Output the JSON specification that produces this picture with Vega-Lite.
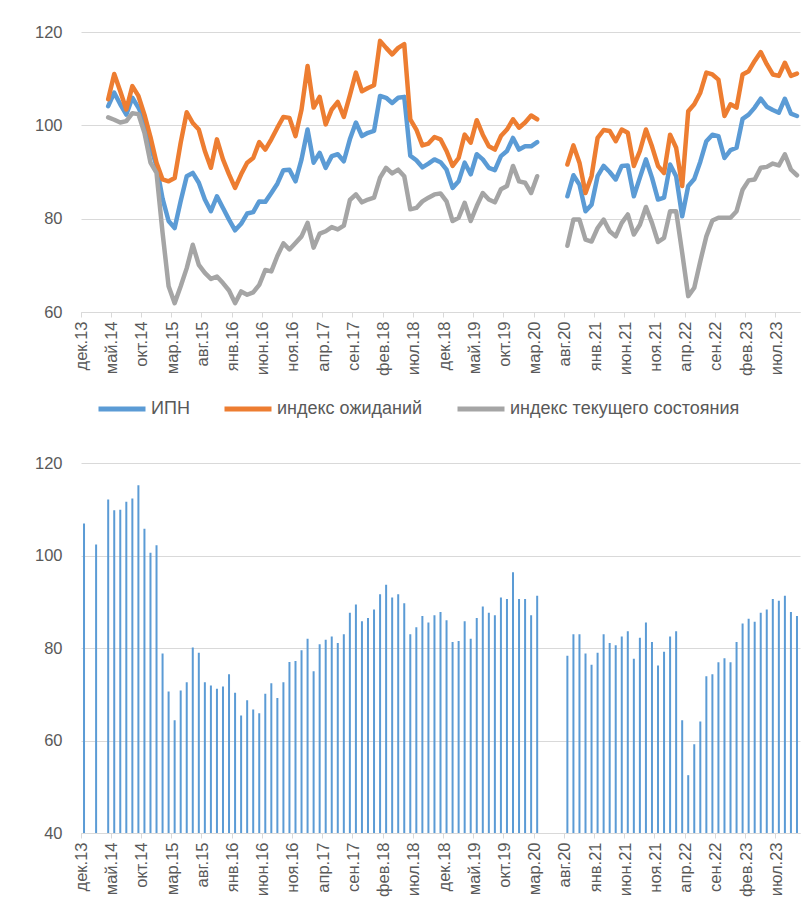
{
  "$schema": "https://vega.github.io/schema/vega-lite/v6.json",
  "background": "white",
  "padding": {"left": 34, "top": 24, "right": 10, "bottom": 5},
  "config": {
    "font": "Liberation Sans",
    "view": {"stroke": null},
    "axis": {"labelColor": "#595959", "labelFontSize": 16.5, "gridColor": "#d9d9d9", "domainColor": "#d9d9d9", "tickColor": "#d9d9d9", "title": null},
    "legend": {"labelColor": "#595959", "labelFontSize": 18, "title": null, "labelLimit": 0}
  },
  "resolve": {"scale": {"color": "independent"}},
  "spacing": 21,
  "datasets": {
    "lines": [
      {"m": "апр.14", "seg": 1, "ИПН": 104.1, "индекс ожиданий": 105.6, "индекс текущего состояния": 101.7},
      {"m": "май.14", "seg": 1, "ИПН": 107.0, "индекс ожиданий": 111.0, "индекс текущего состояния": 101.2},
      {"m": "июн.14", "seg": 1, "ИПН": 104.5, "индекс ожиданий": 107.3, "индекс текущего состояния": 100.6},
      {"m": "июл.14", "seg": 1, "ИПН": 102.3, "индекс ожиданий": 103.4, "индекс текущего состояния": 100.9},
      {"m": "авг.14", "seg": 1, "ИПН": 105.9, "индекс ожиданий": 108.4, "индекс текущего состояния": 102.6},
      {"m": "сен.14", "seg": 1, "ИПН": 103.8, "индекс ожиданий": 106.3, "индекс текущего состояния": 102.4},
      {"m": "окт.14", "seg": 1, "ИПН": 101.0, "индекс ожиданий": 102.3, "индекс текущего состояния": 98.4},
      {"m": "ноя.14", "seg": 1, "ИПН": 95.5, "индекс ожиданий": 97.5, "индекс текущего состояния": 92.0},
      {"m": "дек.14", "seg": 1, "ИПН": 91.3, "индекс ожиданий": 92.0, "индекс текущего состояния": 89.8},
      {"m": "янв.15", "seg": 1, "ИПН": 84.3, "индекс ожиданий": 88.4, "индекс текущего состояния": 77.0},
      {"m": "фев.15", "seg": 1, "ИПН": 79.5, "индекс ожиданий": 88.0, "индекс текущего состояния": 65.5},
      {"m": "мар.15", "seg": 1, "ИПН": 78.0, "индекс ожиданий": 88.7, "индекс текущего состояния": 61.9},
      {"m": "апр.15", "seg": 1, "ИПН": 83.8, "индекс ожиданий": 96.3, "индекс текущего состояния": 65.5},
      {"m": "май.15", "seg": 1, "ИПН": 89.1, "индекс ожиданий": 102.8, "индекс текущего состояния": 69.4},
      {"m": "июн.15", "seg": 1, "ИПН": 89.8, "индекс ожиданий": 100.5, "индекс текущего состояния": 74.4},
      {"m": "июл.15", "seg": 1, "ИПН": 87.7, "индекс ожиданий": 99.1, "индекс текущего состояния": 70.1},
      {"m": "авг.15", "seg": 1, "ИПН": 84.1, "индекс ожиданий": 94.5, "индекс текущего состояния": 68.4},
      {"m": "сен.15", "seg": 1, "ИПН": 81.6, "индекс ожиданий": 90.9, "индекс текущего состояния": 67.1},
      {"m": "окт.15", "seg": 1, "ИПН": 84.8, "индекс ожиданий": 97.0, "индекс текущего состояния": 67.6},
      {"m": "ноя.15", "seg": 1, "ИПН": 82.3, "индекс ожиданий": 92.7, "индекс текущего состояния": 66.2},
      {"m": "дек.15", "seg": 1, "ИПН": 79.8, "индекс ожиданий": 89.5, "индекс текущего состояния": 64.6},
      {"m": "янв.16", "seg": 1, "ИПН": 77.5, "индекс ожиданий": 86.6, "индекс текущего состояния": 61.9},
      {"m": "фев.16", "seg": 1, "ИПН": 78.9, "индекс ожиданий": 89.5, "индекс текущего состояния": 64.4},
      {"m": "мар.16", "seg": 1, "ИПН": 81.1, "индекс ожиданий": 92.0, "индекс текущего состояния": 63.7},
      {"m": "апр.16", "seg": 1, "ИПН": 81.4, "индекс ожиданий": 93.0, "индекс текущего состояния": 64.2},
      {"m": "май.16", "seg": 1, "ИПН": 83.7, "индекс ожиданий": 96.4, "индекс текущего состояния": 65.8},
      {"m": "июн.16", "seg": 1, "ИПН": 83.6, "индекс ожиданий": 94.8, "индекс текущего состояния": 69.0},
      {"m": "июл.16", "seg": 1, "ИПН": 85.5, "индекс ожиданий": 97.0, "индекс текущего состояния": 68.7},
      {"m": "авг.16", "seg": 1, "ИПН": 87.5, "индекс ожиданий": 99.5, "индекс текущего состояния": 72.0},
      {"m": "сен.16", "seg": 1, "ИПН": 90.4, "индекс ожиданий": 101.8, "индекс текущего состояния": 74.7},
      {"m": "окт.16", "seg": 1, "ИПН": 90.5, "индекс ожиданий": 101.6, "индекс текущего состояния": 73.4},
      {"m": "ноя.16", "seg": 1, "ИПН": 88.0, "индекс ожиданий": 97.7, "индекс текущего состояния": 74.8},
      {"m": "дек.16", "seg": 1, "ИПН": 92.7, "индекс ожиданий": 103.4, "индекс текущего состояния": 76.2},
      {"m": "янв.17", "seg": 1, "ИПН": 99.1, "индекс ожиданий": 112.7, "индекс текущего состояния": 79.1},
      {"m": "фев.17", "seg": 1, "ИПН": 92.0, "индекс ожиданий": 103.8, "индекс текущего состояния": 73.8},
      {"m": "мар.17", "seg": 1, "ИПН": 94.1, "индекс ожиданий": 106.1, "индекс текущего состояния": 76.8},
      {"m": "апр.17", "seg": 1, "ИПН": 90.9, "индекс ожиданий": 100.2, "индекс текущего состояния": 77.3},
      {"m": "май.17", "seg": 1, "ИПН": 93.4, "индекс ожиданий": 103.4, "индекс текущего состояния": 78.2},
      {"m": "июн.17", "seg": 1, "ИПН": 93.8, "индекс ожиданий": 105.0, "индекс текущего состояния": 77.7},
      {"m": "июл.17", "seg": 1, "ИПН": 92.3, "индекс ожиданий": 101.8, "индекс текущего состояния": 78.5},
      {"m": "авг.17", "seg": 1, "ИПН": 97.0, "индекс ожиданий": 106.4, "индекс текущего состояния": 84.0},
      {"m": "сен.17", "seg": 1, "ИПН": 100.6, "индекс ожиданий": 111.3, "индекс текущего состояния": 85.2},
      {"m": "окт.17", "seg": 1, "ИПН": 97.7, "индекс ожиданий": 107.3, "индекс текущего состояния": 83.5},
      {"m": "ноя.17", "seg": 1, "ИПН": 98.4, "индекс ожиданий": 108.0, "индекс текущего состояния": 84.1},
      {"m": "дек.17", "seg": 1, "ИПН": 98.8, "индекс ожиданий": 108.6, "индекс текущего состояния": 84.5},
      {"m": "янв.18", "seg": 1, "ИПН": 106.3, "индекс ожиданий": 118.1, "индекс текущего состояния": 88.8},
      {"m": "фев.18", "seg": 1, "ИПН": 105.9, "индекс ожиданий": 116.6, "индекс текущего состояния": 90.9},
      {"m": "мар.18", "seg": 1, "ИПН": 104.8, "индекс ожиданий": 115.2, "индекс текущего состояния": 89.7},
      {"m": "апр.18", "seg": 1, "ИПН": 105.9, "индекс ожиданий": 116.6, "индекс текущего состояния": 90.5},
      {"m": "май.18", "seg": 1, "ИПН": 106.1, "индекс ожиданий": 117.4, "индекс текущего состояния": 89.1},
      {"m": "июн.18", "seg": 1, "ИПН": 93.5, "индекс ожиданий": 101.3, "индекс текущего состояния": 82.0},
      {"m": "июл.18", "seg": 1, "ИПН": 92.5, "индекс ожиданий": 99.1, "индекс текущего состояния": 82.3},
      {"m": "авг.18", "seg": 1, "ИПН": 91.0, "индекс ожиданий": 95.7, "индекс текущего состояния": 83.7},
      {"m": "сен.18", "seg": 1, "ИПН": 91.8, "индекс ожиданий": 96.1, "индекс текущего состояния": 84.5},
      {"m": "окт.18", "seg": 1, "ИПН": 92.7, "индекс ожиданий": 97.5, "индекс текущего состояния": 85.2},
      {"m": "ноя.18", "seg": 1, "ИПН": 92.1, "индекс ожиданий": 97.0, "индекс текущего состояния": 85.4},
      {"m": "дек.18", "seg": 1, "ИПН": 90.5, "индекс ожиданий": 94.5, "индекс текущего состояния": 83.7},
      {"m": "янв.19", "seg": 1, "ИПН": 86.6, "индекс ожиданий": 91.3, "индекс текущего состояния": 79.5},
      {"m": "фев.19", "seg": 1, "ИПН": 88.0, "индекс ожиданий": 93.0, "индекс текущего состояния": 80.2},
      {"m": "мар.19", "seg": 1, "ИПН": 92.0, "индекс ожиданий": 98.0, "индекс текущего состояния": 83.4},
      {"m": "апр.19", "seg": 1, "ИПН": 89.5, "индекс ожиданий": 96.3, "индекс текущего состояния": 79.5},
      {"m": "май.19", "seg": 1, "ИПН": 93.8, "индекс ожиданий": 101.1, "индекс текущего состояния": 82.7},
      {"m": "июн.19", "seg": 1, "ИПН": 92.7, "индекс ожиданий": 98.0, "индекс текущего состояния": 85.5},
      {"m": "июл.19", "seg": 1, "ИПН": 90.9, "индекс ожиданий": 95.5, "индекс текущего состояния": 84.1},
      {"m": "авг.19", "seg": 1, "ИПН": 90.4, "индекс ожиданий": 94.8, "индекс текущего состояния": 83.5},
      {"m": "сен.19", "seg": 1, "ИПН": 93.4, "индекс ожиданий": 97.7, "индекс текущего состояния": 86.3},
      {"m": "окт.19", "seg": 1, "ИПН": 94.5, "индекс ожиданий": 99.1, "индекс текущего состояния": 87.0},
      {"m": "ноя.19", "seg": 1, "ИПН": 97.3, "индекс ожиданий": 101.3, "индекс текущего состояния": 91.3},
      {"m": "дек.19", "seg": 1, "ИПН": 94.8, "индекс ожиданий": 99.5, "индекс текущего состояния": 88.0},
      {"m": "янв.20", "seg": 1, "ИПН": 95.5, "индекс ожиданий": 100.6, "индекс текущего состояния": 87.7},
      {"m": "фев.20", "seg": 1, "ИПН": 95.5, "индекс ожиданий": 102.1, "индекс текущего состояния": 85.5},
      {"m": "мар.20", "seg": 1, "ИПН": 96.4, "индекс ожиданий": 101.3, "индекс текущего состояния": 89.1},
      {"m": "авг.20", "seg": 2, "ИПН": 84.8, "индекс ожиданий": 91.6, "индекс текущего состояния": 74.2},
      {"m": "сен.20", "seg": 2, "ИПН": 89.3, "индекс ожиданий": 95.7, "индекс текущего состояния": 79.8},
      {"m": "окт.20", "seg": 2, "ИПН": 87.3, "индекс ожиданий": 92.0, "индекс текущего состояния": 79.8},
      {"m": "ноя.20", "seg": 2, "ИПН": 81.6, "индекс ожиданий": 85.5, "индекс текущего состояния": 75.5},
      {"m": "дек.20", "seg": 2, "ИПН": 83.0, "индекс ожиданий": 89.1, "индекс текущего состояния": 75.1},
      {"m": "янв.21", "seg": 2, "ИПН": 89.1, "индекс ожиданий": 97.3, "индекс текущего состояния": 78.0},
      {"m": "фев.21", "seg": 2, "ИПН": 91.3, "индекс ожиданий": 99.0, "индекс текущего состояния": 79.8},
      {"m": "мар.21", "seg": 2, "ИПН": 90.0, "индекс ожиданий": 98.8, "индекс текущего состояния": 77.3},
      {"m": "апр.21", "seg": 2, "ИПН": 88.4, "индекс ожиданий": 96.6, "индекс текущего состояния": 76.2},
      {"m": "май.21", "seg": 2, "ИПН": 91.3, "индекс ожиданий": 99.1, "индекс текущего состояния": 79.1},
      {"m": "июн.21", "seg": 2, "ИПН": 91.4, "индекс ожиданий": 98.4, "индекс текущего состояния": 80.9},
      {"m": "июл.21", "seg": 2, "ИПН": 84.8, "индекс ожиданий": 91.3, "индекс текущего состояния": 76.6},
      {"m": "авг.21", "seg": 2, "ИПН": 88.8, "индекс ожиданий": 94.5, "индекс текущего состояния": 78.7},
      {"m": "сен.21", "seg": 2, "ИПН": 92.7, "индекс ожиданий": 99.1, "индекс текущего состояния": 82.5},
      {"m": "окт.21", "seg": 2, "ИПН": 88.8, "индекс ожиданий": 95.5, "индекс текущего состояния": 79.1},
      {"m": "ноя.21", "seg": 2, "ИПН": 84.1, "индекс ожиданий": 91.3, "индекс текущего состояния": 75.0},
      {"m": "дек.21", "seg": 2, "ИПН": 84.5, "индекс ожиданий": 89.8, "индекс текущего состояния": 75.9},
      {"m": "янв.22", "seg": 2, "ИПН": 91.6, "индекс ожиданий": 98.0, "индекс текущего состояния": 81.6},
      {"m": "фев.22", "seg": 2, "ИПН": 89.1, "индекс ожиданий": 95.2, "индекс текущего состояния": 81.6},
      {"m": "мар.22", "seg": 2, "ИПН": 80.5, "индекс ожиданий": 87.0, "индекс текущего состояния": 72.7},
      {"m": "апр.22", "seg": 2, "ИПН": 87.0, "индекс ожиданий": 103.0, "индекс текущего состояния": 63.4},
      {"m": "май.22", "seg": 2, "ИПН": 88.5, "индекс ожиданий": 104.5, "индекс текущего состояния": 65.2},
      {"m": "июн.22", "seg": 2, "ИПН": 92.2, "индекс ожиданий": 107.0, "индекс текущего состояния": 70.9},
      {"m": "июл.22", "seg": 2, "ИПН": 96.6, "индекс ожиданий": 111.3, "индекс текущего состояния": 76.2},
      {"m": "авг.22", "seg": 2, "ИПН": 98.0, "индекс ожиданий": 110.9, "индекс текущего состояния": 79.6},
      {"m": "сен.22", "seg": 2, "ИПН": 97.7, "индекс ожиданий": 109.8, "индекс текущего состояния": 80.2},
      {"m": "окт.22", "seg": 2, "ИПН": 93.0, "индекс ожиданий": 102.0, "индекс текущего состояния": 80.2},
      {"m": "ноя.22", "seg": 2, "ИПН": 94.7, "индекс ожиданий": 104.5, "индекс текущего состояния": 80.2},
      {"m": "дек.22", "seg": 2, "ИПН": 95.2, "индекс ожиданий": 103.8, "индекс текущего состояния": 81.6},
      {"m": "янв.23", "seg": 2, "ИПН": 101.4, "индекс ожиданий": 110.9, "индекс текущего состояния": 86.2},
      {"m": "фев.23", "seg": 2, "ИПН": 102.3, "индекс ожиданий": 111.6, "индекс текущего состояния": 88.2},
      {"m": "мар.23", "seg": 2, "ИПН": 103.8, "индекс ожиданий": 113.8, "индекс текущего состояния": 88.4},
      {"m": "апр.23", "seg": 2, "ИПН": 105.7, "индекс ожиданий": 115.7, "индекс текущего состояния": 90.9},
      {"m": "май.23", "seg": 2, "ИПН": 104.0, "индекс ожиданий": 113.1, "индекс текущего состояния": 91.1},
      {"m": "июн.23", "seg": 2, "ИПН": 103.3, "индекс ожиданий": 110.9, "индекс текущего состояния": 91.8},
      {"m": "июл.23", "seg": 2, "ИПН": 102.7, "индекс ожиданий": 110.6, "индекс текущего состояния": 91.4},
      {"m": "авг.23", "seg": 2, "ИПН": 105.7, "индекс ожиданий": 113.4, "индекс текущего состояния": 93.8},
      {"m": "сен.23", "seg": 2, "ИПН": 102.5, "индекс ожиданий": 110.6, "индекс текущего состояния": 90.5},
      {"m": "окт.23", "seg": 2, "ИПН": 102.0, "индекс ожиданий": 111.1, "индекс текущего состояния": 89.3}
    ],
    "bars": [
      {"m": "дек.13", "v": 106.9}, {"m": "фев.14", "v": 102.4},
      {"m": "апр.14", "v": 112.1}, {"m": "май.14", "v": 109.8}, {"m": "июн.14", "v": 109.9}, {"m": "июл.14", "v": 111.6},
      {"m": "авг.14", "v": 112.3}, {"m": "сен.14", "v": 115.2}, {"m": "окт.14", "v": 105.8}, {"m": "ноя.14", "v": 100.6},
      {"m": "дек.14", "v": 102.2}, {"m": "янв.15", "v": 78.8}, {"m": "фев.15", "v": 70.6}, {"m": "мар.15", "v": 64.4},
      {"m": "апр.15", "v": 70.8}, {"m": "май.15", "v": 72.6}, {"m": "июн.15", "v": 80.1}, {"m": "июл.15", "v": 79.0},
      {"m": "авг.15", "v": 72.6}, {"m": "сен.15", "v": 71.9}, {"m": "окт.15", "v": 71.2}, {"m": "ноя.15", "v": 71.7},
      {"m": "дек.15", "v": 74.3}, {"m": "янв.16", "v": 70.3}, {"m": "фев.16", "v": 65.4}, {"m": "мар.16", "v": 68.7},
      {"m": "апр.16", "v": 66.7}, {"m": "май.16", "v": 65.9}, {"m": "июн.16", "v": 70.1}, {"m": "июл.16", "v": 72.4},
      {"m": "авг.16", "v": 69.2}, {"m": "сен.16", "v": 72.6}, {"m": "окт.16", "v": 77.0}, {"m": "ноя.16", "v": 77.2},
      {"m": "дек.16", "v": 79.5}, {"m": "янв.17", "v": 82.0}, {"m": "фев.17", "v": 75.0}, {"m": "мар.17", "v": 80.8},
      {"m": "апр.17", "v": 81.8}, {"m": "май.17", "v": 82.5}, {"m": "июн.17", "v": 81.1}, {"m": "июл.17", "v": 83.0},
      {"m": "авг.17", "v": 87.6}, {"m": "сен.17", "v": 89.4}, {"m": "окт.17", "v": 85.8}, {"m": "ноя.17", "v": 86.5},
      {"m": "дек.17", "v": 88.3}, {"m": "янв.18", "v": 91.6}, {"m": "фев.18", "v": 93.7}, {"m": "мар.18", "v": 90.9},
      {"m": "апр.18", "v": 91.6}, {"m": "май.18", "v": 89.7}, {"m": "июн.18", "v": 83.0}, {"m": "июл.18", "v": 84.5},
      {"m": "авг.18", "v": 86.9}, {"m": "сен.18", "v": 85.5}, {"m": "окт.18", "v": 87.1}, {"m": "ноя.18", "v": 87.8},
      {"m": "дек.18", "v": 86.0}, {"m": "янв.19", "v": 81.3}, {"m": "фев.19", "v": 81.5}, {"m": "мар.19", "v": 85.8},
      {"m": "апр.19", "v": 82.0}, {"m": "май.19", "v": 86.5}, {"m": "июн.19", "v": 89.0}, {"m": "июл.19", "v": 87.6},
      {"m": "авг.19", "v": 87.1}, {"m": "сен.19", "v": 90.9}, {"m": "окт.19", "v": 90.6}, {"m": "ноя.19", "v": 96.4},
      {"m": "дек.19", "v": 90.6}, {"m": "янв.20", "v": 90.6}, {"m": "фев.20", "v": 87.1}, {"m": "мар.20", "v": 91.3},
      {"m": "авг.20", "v": 78.3}, {"m": "сен.20", "v": 83.0}, {"m": "окт.20", "v": 83.0}, {"m": "ноя.20", "v": 78.8},
      {"m": "дек.20", "v": 76.4}, {"m": "янв.21", "v": 79.0}, {"m": "фев.21", "v": 83.0}, {"m": "мар.21", "v": 81.1},
      {"m": "апр.21", "v": 80.6}, {"m": "май.21", "v": 82.5}, {"m": "июн.21", "v": 83.6}, {"m": "июл.21", "v": 77.7},
      {"m": "авг.21", "v": 82.2}, {"m": "сен.21", "v": 85.5}, {"m": "окт.21", "v": 81.3}, {"m": "ноя.21", "v": 76.2},
      {"m": "дек.21", "v": 79.2}, {"m": "янв.22", "v": 82.5}, {"m": "фев.22", "v": 83.6}, {"m": "мар.22", "v": 64.4},
      {"m": "апр.22", "v": 52.5}, {"m": "май.22", "v": 59.2}, {"m": "июн.22", "v": 64.1}, {"m": "июл.22", "v": 73.9},
      {"m": "авг.22", "v": 74.3}, {"m": "сен.22", "v": 76.9}, {"m": "окт.22", "v": 77.8}, {"m": "ноя.22", "v": 76.9},
      {"m": "дек.22", "v": 81.3}, {"m": "янв.23", "v": 85.3}, {"m": "фев.23", "v": 86.3}, {"m": "мар.23", "v": 85.7},
      {"m": "апр.23", "v": 87.6}, {"m": "май.23", "v": 88.3}, {"m": "июн.23", "v": 90.6}, {"m": "июл.23", "v": 90.2},
      {"m": "авг.23", "v": 91.3}, {"m": "сен.23", "v": 87.8}, {"m": "окт.23", "v": 86.9}
    ]
  },
  "vconcat": [
    {
      "width": 719,
      "height": 280,
      "data": {"name": "lines"},
      "transform": [{"fold": ["ИПН", "индекс ожиданий", "индекс текущего состояния"], "as": ["series", "value"]}],
      "mark": {"type": "line", "strokeWidth": 4.5, "strokeCap": "round", "strokeJoin": "round"},
      "encoding": {
        "x": {
          "field": "m", "type": "ordinal",
          "scale": {"type": "band", "paddingInner": 0, "paddingOuter": 0, "domain": ["дек.13","янв.14","фев.14","мар.14","апр.14","май.14","июн.14","июл.14","авг.14","сен.14","окт.14","ноя.14","дек.14","янв.15","фев.15","мар.15","апр.15","май.15","июн.15","июл.15","авг.15","сен.15","окт.15","ноя.15","дек.15","янв.16","фев.16","мар.16","апр.16","май.16","июн.16","июл.16","авг.16","сен.16","окт.16","ноя.16","дек.16","янв.17","фев.17","мар.17","апр.17","май.17","июн.17","июл.17","авг.17","сен.17","окт.17","ноя.17","дек.17","янв.18","фев.18","мар.18","апр.18","май.18","июн.18","июл.18","авг.18","сен.18","окт.18","ноя.18","дек.18","янв.19","фев.19","мар.19","апр.19","май.19","июн.19","июл.19","авг.19","сен.19","окт.19","ноя.19","дек.19","янв.20","фев.20","мар.20","апр.20","май.20","июн.20","июл.20","авг.20","сен.20","окт.20","ноя.20","дек.20","янв.21","фев.21","мар.21","апр.21","май.21","июн.21","июл.21","авг.21","сен.21","окт.21","ноя.21","дек.21","янв.22","фев.22","мар.22","апр.22","май.22","июн.22","июл.22","авг.22","сен.22","окт.22","ноя.22","дек.22","янв.23","фев.23","мар.23","апр.23","май.23","июн.23","июл.23","авг.23","сен.23","окт.23"]},
          "axis": {"values": ["дек.13","май.14","окт.14","мар.15","авг.15","янв.16","июн.16","ноя.16","апр.17","сен.17","фев.18","июл.18","дек.18","май.19","окт.19","мар.20","авг.20","янв.21","июн.21","ноя.21","апр.22","сен.22","фев.23","июл.23"], "labelAngle": -90, "bandPosition": 0, "tickSize": 5, "labelPadding": 4, "labelOffset": -2, "grid": false}
        },
        "y": {"field": "value", "type": "quantitative", "scale": {"domain": [60, 120]}, "axis": {"values": [60, 80, 100, 120], "ticks": false, "domain": false, "labelPadding": 19}},
        "color": {
          "field": "series", "type": "nominal",
          "scale": {"domain": ["ИПН", "индекс ожиданий", "индекс текущего состояния"], "range": ["#5B9BD5", "#ED7D31", "#A5A5A5"]},
          "legend": {"orient": "bottom", "direction": "horizontal", "symbolType": "stroke", "symbolStrokeWidth": 5, "symbolSize": 2209, "labelOffset": 3, "columnPadding": 24, "padding": 15, "offset": -8}
        },
        "detail": {"field": "seg", "type": "nominal"}
      }
    },
    {
      "width": 719,
      "height": 370,
      "data": {"name": "bars"},
      "mark": {"type": "bar", "width": 2, "color": "#5B9BD5", "clip": true},
      "encoding": {
        "x": {
          "field": "m", "type": "ordinal",
          "scale": {"type": "band", "paddingInner": 0, "paddingOuter": 0, "domain": ["дек.13","янв.14","фев.14","мар.14","апр.14","май.14","июн.14","июл.14","авг.14","сен.14","окт.14","ноя.14","дек.14","янв.15","фев.15","мар.15","апр.15","май.15","июн.15","июл.15","авг.15","сен.15","окт.15","ноя.15","дек.15","янв.16","фев.16","мар.16","апр.16","май.16","июн.16","июл.16","авг.16","сен.16","окт.16","ноя.16","дек.16","янв.17","фев.17","мар.17","апр.17","май.17","июн.17","июл.17","авг.17","сен.17","окт.17","ноя.17","дек.17","янв.18","фев.18","мар.18","апр.18","май.18","июн.18","июл.18","авг.18","сен.18","окт.18","ноя.18","дек.18","янв.19","фев.19","мар.19","апр.19","май.19","июн.19","июл.19","авг.19","сен.19","окт.19","ноя.19","дек.19","янв.20","фев.20","мар.20","апр.20","май.20","июн.20","июл.20","авг.20","сен.20","окт.20","ноя.20","дек.20","янв.21","фев.21","мар.21","апр.21","май.21","июн.21","июл.21","авг.21","сен.21","окт.21","ноя.21","дек.21","янв.22","фев.22","мар.22","апр.22","май.22","июн.22","июл.22","авг.22","сен.22","окт.22","ноя.22","дек.22","янв.23","фев.23","мар.23","апр.23","май.23","июн.23","июл.23","авг.23","сен.23","окт.23"]},
          "axis": {"values": ["дек.13","май.14","окт.14","мар.15","авг.15","янв.16","июн.16","ноя.16","апр.17","сен.17","фев.18","июл.18","дек.18","май.19","окт.19","мар.20","авг.20","янв.21","июн.21","ноя.21","апр.22","сен.22","фев.23","июл.23"], "labelAngle": -90, "bandPosition": 0, "tickSize": 5, "labelPadding": 4, "labelOffset": -2, "grid": false}
        },
        "y": {"field": "v", "type": "quantitative", "scale": {"domain": [40, 120]}, "axis": {"values": [40, 60, 80, 100, 120], "ticks": false, "domain": false, "labelPadding": 19}}
      }
    }
  ]
}
